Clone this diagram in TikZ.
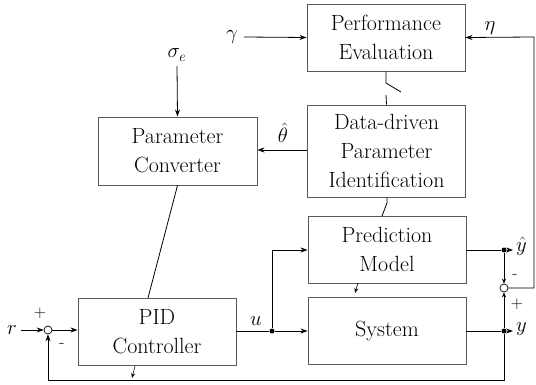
\documentclass[tikz,border=0pt]{standalone}
\usetikzlibrary{arrows.meta}
\begin{document}
\begin{tikzpicture}[x=1pt,y=-1pt,
  blk/.style={draw=black!65,line width=0.9pt,minimum width=158pt,align=center,inner sep=0pt,
    font=\rmfamily\fontsize{22}{29}\selectfont},
  ln/.style={line width=0.8pt},
  arr/.style={ln,-{Stealth[length=7pt,width=5pt]}},
  sarr/.style={line width=0.6pt,-{Stealth[length=5pt,width=4pt]}},
  sumc/.style={circle,draw,line width=0.7pt,minimum size=8pt,inner sep=0pt},
  dotc/.style={circle,fill,minimum size=5pt,inner sep=0pt},
  lab/.style={font=\fontsize{22}{24}\selectfont,inner sep=0pt},
  sgn/.style={font=\rmfamily\fontsize{17}{18}\selectfont,inner sep=0pt}]
\useasboundingbox (0,0) rectangle (536,385);
% blocks
\node[blk,minimum height=67pt] (pe) at (386,37.5) {Performance\\Evaluation};
\node[blk,minimum height=92pt] (dd) at (386.5,151) {Data-driven\\Parameter\\Identification};
\node[blk,minimum height=68pt,minimum width=159pt] (pc) at (177.5,151) {Parameter\\Converter};
\node[blk,minimum height=67pt] (pm) at (387,249.5) {Prediction\\Model};
\node[blk,minimum height=67pt] (sys) at (387,331) {System};
\node[blk,minimum height=67pt] (pid) at (157,331.5) {PID\\Controller};
% junctions
\node[sumc] (s1) at (48,330) {};
\node[sumc] (s2) at (504,288) {};
\node[dotc] (ud) at (272,331) {};
\node[dotc] (yhd) at (504,250) {};
\node[dotc] (yd) at (504,331) {};
% labels
\node[lab] (gam) at (232,37) {$\gamma$};
\node[lab] (eta) at (490,28) {$\eta$};
\node[lab] (sig) at (177,55) {$\sigma_e$};
\node[lab] (th) at (283,133) {$\hat{\theta}$};
\node[lab] (r) at (12,330) {$r$};
\node[lab] (u) at (256,321) {$u$};
\node[lab,anchor=west] (yh) at (516,246) {$\hat{y}$};
\node[lab,anchor=west] (y) at (516,329) {$y$};
\node[sgn] (p1) at (40,313) {+};
\node[sgn] (m1) at (62,345) {-};
\node[sgn] (m2) at (515,276) {-};
\node[sgn] (p2) at (517,304) {+};
\coordinate (c1) at (534,288);
\coordinate (c2) at (534,37);
\coordinate (fb1) at (504,380);
\coordinate (fb2) at (48,380);
\coordinate (uup) at (272,250);
\coordinate (sw1) at (386,83);
\coordinate (sw2) at (401,92);
\coordinate (sw3) at (386,95);
\coordinate (dm1) at (387,203);
\coordinate (yhe) at (513,250);
\coordinate (ye) at (513,331);
% connectors
\draw[arr] (gam.east) ++(6,0) -- (pe.west);
\draw[arr] (s2.east) -- (c1) -- (c2) -- (pe.east);
\draw[ln] (pe.south) -- (sw1) -- (sw2);
\draw[ln] (sw3) -- (dd.north);
\draw[arr] (dd.west |- 0,150) -- (pc.east |- 0,150);
\draw[arr] (sig.south) ++(0,5) -- (pc.north);
\draw[ln] (pc.south) -- (148,298);
\draw[ln] (dd.south -| dm1) -- (dm1) -- (382,216);
\draw[sarr] (358,283) -- (355,293);
\draw[sarr] (135,366) -- (132,378);
\draw[arr] (r.east) ++(4,0) -- (s1.west);
\draw[arr] (s1.east) -- (pid.west |- s1);
\draw[ln] (pid.east |- ud) -- (ud);
\draw[arr] (ud) -- (sys.west |- ud);
\draw[arr] (ud) -- (uup) -- (pm.west |- uup);
\draw[ln] (pm.east |- yhd) -- (yhd);
\draw[arr] (yhd) -- (yhe);
\draw[ln] (sys.east |- yd) -- (yd);
\draw[arr] (yd) -- (ye);
\draw[sarr] (yhd) -- (s2.north);
\draw[sarr] (yd) -- (s2.south);
\draw[arr] (yd) -- (fb1) -- (fb2) -- (s1.south);
\end{tikzpicture}
\end{document}
